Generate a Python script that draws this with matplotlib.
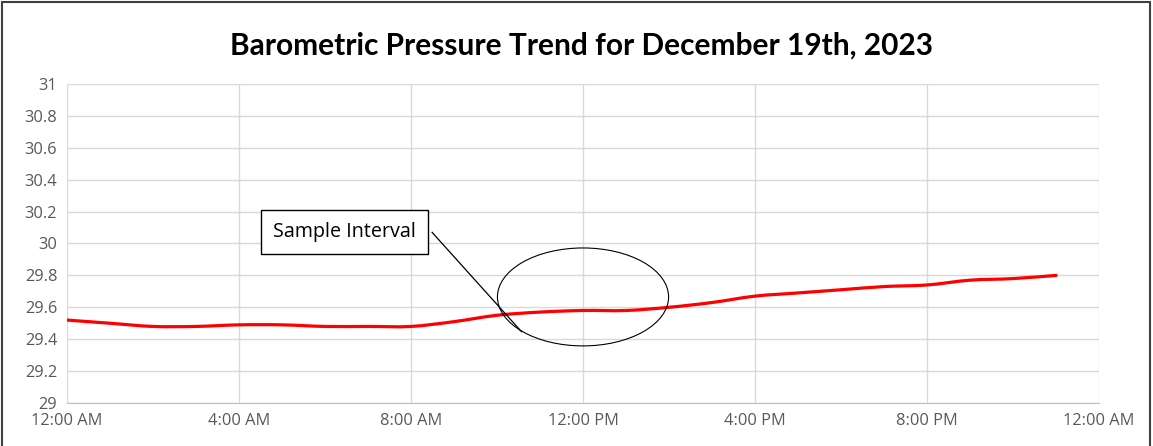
import numpy as np
import matplotlib.pyplot as plt
from matplotlib.path import Path
from matplotlib.patches import PathPatch, Ellipse, Rectangle

# hourly readings (inHg)
hours = list(range(24))
pressure = [29.52, 29.50, 29.48, 29.48, 29.49, 29.49, 29.48, 29.48,
            29.48, 29.51, 29.55, 29.57, 29.58, 29.58, 29.60, 29.63,
            29.67, 29.69, 29.71, 29.73, 29.74, 29.77, 29.78, 29.80]

x_ticks = [0, 4, 8, 12, 16, 20, 24]
x_labels = ['12:00 AM', '4:00 AM', '8:00 AM', '12:00 PM', '4:00 PM', '8:00 PM', '12:00 AM']
y_ticks = [29, 29.2, 29.4, 29.6, 29.8, 30, 30.2, 30.4, 30.6, 30.8, 31]
y_labels = ['29', '29.2', '29.4', '29.6', '29.8', '30', '30.2', '30.4', '30.6', '30.8', '31']

fig = plt.figure(figsize=(11.53, 4.46), dpi=100)
ax = fig.add_axes([0.0581, 0.0964, 0.8951, 0.7153])

# smoothed line like Excel (Catmull-Rom as cubic bezier segments)
x = np.array(hours, dtype=float)
y = np.array(pressure)
verts = [(x[0], y[0])]
codes = [Path.MOVETO]
for i in range(len(x) - 1):
    p0 = np.array([x[max(i - 1, 0)], y[max(i - 1, 0)]])
    p1 = np.array([x[i], y[i]])
    p2 = np.array([x[i + 1], y[i + 1]])
    p3 = np.array([x[min(i + 2, len(x) - 1)], y[min(i + 2, len(x) - 1)]])
    c1 = p1 + (p2 - p0) / 6
    c2 = p2 - (p3 - p1) / 6
    verts += [tuple(c1), tuple(c2), tuple(p2)]
    codes += [Path.CURVE4] * 3
ax.add_patch(PathPatch(Path(verts, codes), facecolor='none', edgecolor='#ff0000',
                       lw=2.3, capstyle='round', zorder=3))

ax.set_xlim(0, 24)
ax.set_ylim(29, 31)
ax.set_xticks(x_ticks)
ax.set_xticklabels(x_labels)
ax.set_yticks(y_ticks)
ax.set_yticklabels(y_labels)
ax.grid(True, color='#d9d9d9', lw=1)
ax.set_axisbelow(True)
for s in ['top', 'right', 'left']:
    ax.spines[s].set_visible(False)
ax.spines['bottom'].set_color('#bfbfbf')
ax.tick_params(length=0, labelsize=11.8, colors='#595959', pad=7)
for lab in ax.get_xticklabels() + ax.get_yticklabels():
    lab.set_fontfamily('Open Sans')

# callout
ax.add_patch(Ellipse((12, 29.665), 3.98, 0.614, facecolor='none', edgecolor='black',
                     lw=0.8, zorder=4, clip_on=False))
ax.plot([8.49, 10.57], [30.07, 29.447], color='black', lw=0.9, zorder=4)
ax.text(6.45, 30.07, 'Sample Interval', ha='center', va='center', fontsize=14.2,
        family='Open Sans', zorder=5,
        bbox=dict(boxstyle='square,pad=0.6', facecolor='white', edgecolor='black', lw=1))

fig.text(0.504, 0.897, 'Barometric Pressure Trend for December 19th, 2023',
         ha='center', va='center', fontsize=21.5, fontweight='bold', family='Lato')

fig.add_artist(Rectangle((0.002, -0.01), 0.995, 1.005, transform=fig.transFigure,
                         facecolor='none', edgecolor='#404040', lw=1.5))

fig.savefig('out.png', dpi=100)
